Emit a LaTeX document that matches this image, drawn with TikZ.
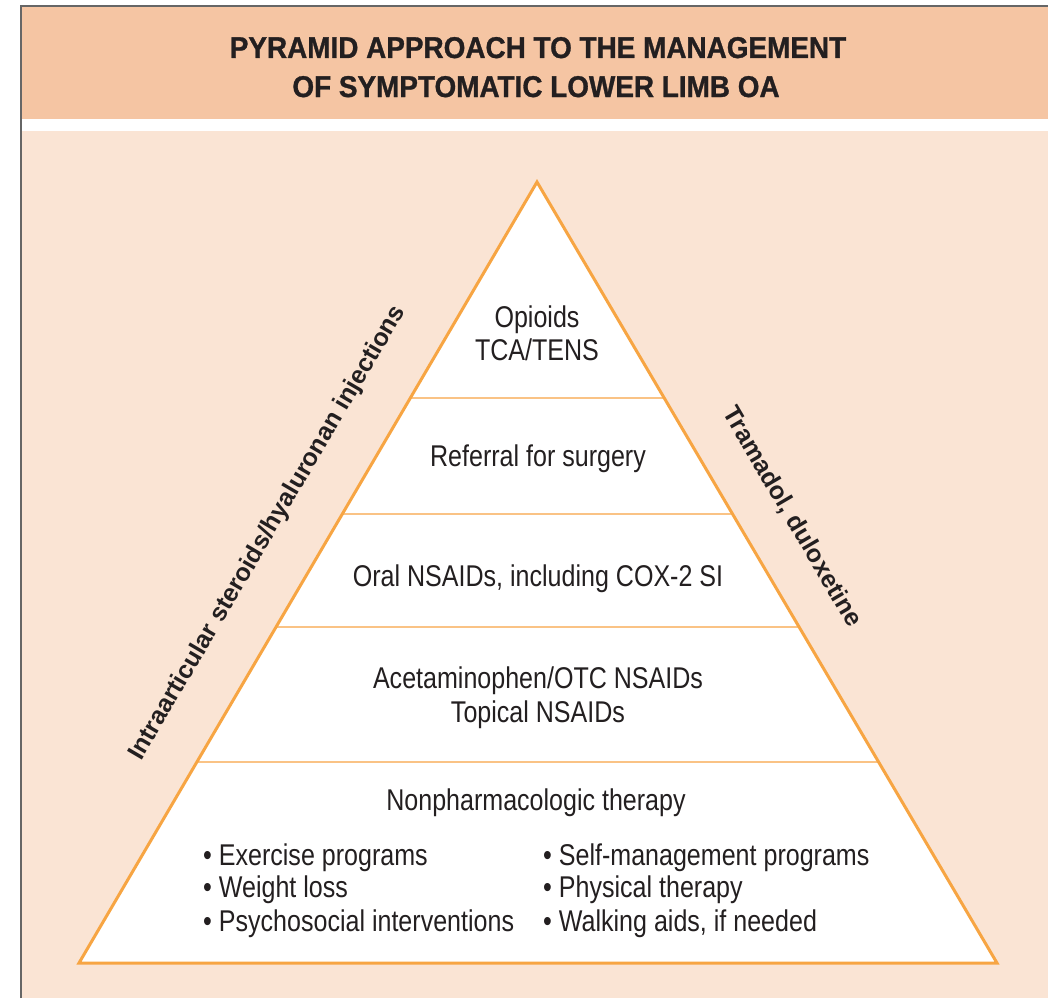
\documentclass[tikz,border=0pt]{standalone}
\usepackage{fontspec}
\setmainfont{Liberation Sans}
\newfontfamily\condfont[FakeStretch=0.835]{Liberation Sans}
\newfontfamily\titlefont[FakeStretch=0.93,FakeBold=1]{Liberation Sans}
\definecolor{band}{HTML}{F5C5A3}
\definecolor{paper}{HTML}{FAE4D4}
\definecolor{edge}{HTML}{F7A543}
\definecolor{divider}{HTML}{FAC385}
\definecolor{frame}{HTML}{666666}
\definecolor{ink}{HTML}{231F20}
\tikzset{
  body/.style={font=\condfont\fontsize{30}{34}\selectfont, text=ink, anchor=base, inner sep=0pt},
  item/.style={font=\condfont\fontsize{30}{34}\selectfont, text=ink, anchor=base west, inner sep=0pt},
  side/.style={font=\bfseries\fontsize{25}{30}\selectfont, text=ink, inner sep=0pt},
  title/.style={font=\titlefont\bfseries\fontsize{30}{38}\selectfont, text=ink, anchor=base, inner sep=0pt}
}
\begin{document}
\begin{tikzpicture}[x=1pt,y=-1pt]
\useasboundingbox (0,0) rectangle (1048,998);
% backgrounds
\fill[white] (0,0) rectangle (1048,998);
\fill[paper] (21,131) rectangle (1048,998);
\fill[band] (21,7) rectangle (1048,119);
\draw[frame, line width=2pt] (21,998) -- (21,6) -- (1048,6);
% title
\node[title] (title1) at (538,58) {PYRAMID APPROACH TO THE MANAGEMENT};
\node[title] (title2) at (536,97) {OF SYMPTOMATIC LOWER LIMB OA};
% pyramid
\coordinate (apex) at (537,182);
\coordinate (bl) at (79,963);
\coordinate (br) at (997,963);
\fill[white] (apex) -- (bl) -- (br) -- cycle;
\foreach \yy/\nm in {398/a, 514/b, 627/c, 762/d}{
  \pgfmathsetmacro{\dx}{(\yy-182)/781*458}
  \pgfmathsetmacro{\dxr}{(\yy-182)/781*460}
  \coordinate (L\nm) at ({537-\dx},\yy);
  \coordinate (R\nm) at ({537+\dxr},\yy);
  \draw[divider, line width=2pt] (L\nm) -- (R\nm);
}
\draw[edge, line width=3pt, line join=miter] (apex) -- (bl) -- (br) -- cycle;
% tier labels
\node[body] (t1a) at (537,327) {Opioids};
\node[body] (t1b) at (537,360) {TCA/TENS};
\node[body] (t2) at (538,466) {Referral for surgery};
\node[body] (t3) at (538,586) {Oral NSAIDs, including COX-2 SI};
\node[body] (t4a) at (538,688) {Acetaminophen/OTC NSAIDs};
\node[body] (t4b) at (538,722) {Topical NSAIDs};
\node[body] (t5) at (536,810) {Nonpharmacologic therapy};
\node[item] (i1) at (203,865) {\textbullet\ Exercise programs};
\node[item] (i2) at (203,897) {\textbullet\ Weight loss};
\node[item] (i3) at (203,931) {\textbullet\ Psychosocial interventions};
\node[item] (i4) at (543,865) {\textbullet\ Self-management programs};
\node[item] (i5) at (543,897) {\textbullet\ Physical therapy};
\node[item] (i6) at (543,931) {\textbullet\ Walking aids, if needed};
% side labels
\node[side, rotate=59.6] (left) at (268,533) {Intraarticular steroids/hyaluronan injections};
\node[side, rotate=-59.6] (right) at (792,517) {Tramadol, duloxetine};
\end{tikzpicture}
\end{document}
